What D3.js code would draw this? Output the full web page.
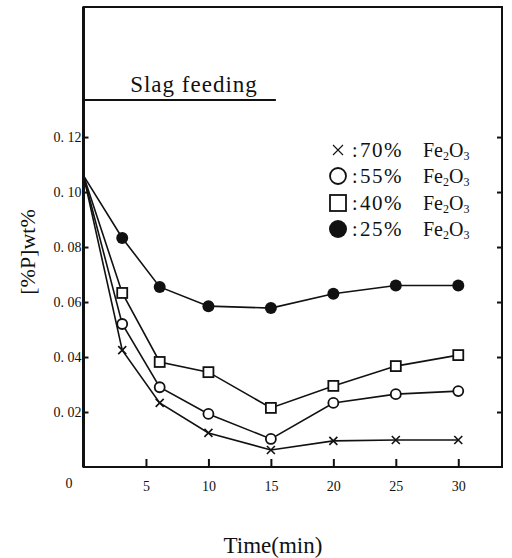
<!DOCTYPE html>
<html lang="en">
<head>
  <title>[%P] vs time</title>
  <meta charset="utf-8">
  <script src="https://d3js.org/d3.v7.min.js" charset="utf-8"></script>
  <style>
    body { margin: 0; background: #fff; }
    text { font-family: "Liberation Serif", "DejaVu Serif", serif; fill: #111; }
  </style>
</head>
<body>
  <script>
  // values
  var times = [0, 3.1, 6.1, 10, 15, 20, 25, 30];
  var fe70 = [0.106, 0.0425, 0.0233, 0.0124, 0.0062, 0.0095, 0.0098, 0.0098];
  var fe55 = [0.106, 0.052, 0.029, 0.0193, 0.0102, 0.0233, 0.0265, 0.0276];
  var fe40 = [0.106, 0.0633, 0.0382, 0.0345, 0.0215, 0.0295, 0.0367, 0.0407];
  var fe25 = [0.106, 0.0833, 0.0655, 0.0585, 0.0578, 0.063, 0.066, 0.066];
  var seriesNames = ["70%", "55%", "40%", "25%"];
  var seriesMarks = ["cross", "circle", "square", "dot"];
  var xTicks = [5, 10, 15, 20, 25, 30];
  var yTicks = [0.02, 0.04, 0.06, 0.08, 0.10, 0.12];
  var slagFeed = [0, 15.4];   // min
  var slagLevel = 0.1335;

  var w = 512, h = 558;
  var x = d3.scaleLinear().domain([0, 33.5]).range([83.5, 502]);
  var y = d3.scaleLinear().domain([0, 0.1673]).range([467, 7]);

  var svg = d3.select("body").append("svg")
    .attr("width", w)
    .attr("height", h)
    .attr("font-family", "Liberation Serif");

  // axes (ticks pointing inward)
  var fmt = function(d) { return d.toFixed(2).replace(".", ". "); };
  var gl = svg.append("g")
    .attr("transform", "translate(" + x(0) + ",0)")
    .call(d3.axisLeft(y).tickValues(yTicks).tickSize(-5).tickPadding(2).tickFormat(fmt));
  var gr = svg.append("g")
    .attr("transform", "translate(" + x(33.5) + ",0)")
    .call(d3.axisRight(y).tickValues(yTicks).tickSize(-5).tickFormat(""));
  var gb = svg.append("g")
    .attr("transform", "translate(0," + y(0) + ")")
    .call(d3.axisBottom(x).tickValues(xTicks).tickSize(-8).tickPadding(14).tickFormat(d3.format("d")));
  [gl, gr, gb].forEach(function(g) {
    g.attr("font-family", "Liberation Serif");
    g.select(".domain").remove();
    g.selectAll("line").attr("stroke", "#111").attr("stroke-width", 2);
    g.selectAll("text").attr("font-size", 14).attr("fill", "#222");
  });

  svg.append("text")
    .attr("x", 69).attr("y", 488)
    .attr("text-anchor", "middle")
    .attr("font-size", 14)
    .text("0");

  // frame
  svg.append("rect")
    .attr("x", x(0)).attr("y", y(0.1673))
    .attr("width", x(33.5) - x(0)).attr("height", y(0) - y(0.1673))
    .attr("fill", "none").attr("stroke", "#111").attr("stroke-width", 2);
  svg.append("line")
    .attr("x1", x(0)).attr("x2", x(0)).attr("y1", y(0.1673)).attr("y2", y(0))
    .attr("stroke", "#111").attr("stroke-width", 3);

  // slag feeding bar
  svg.append("line")
    .attr("x1", x(slagFeed[0])).attr("x2", x(slagFeed[1]))
    .attr("y1", y(slagLevel)).attr("y2", y(slagLevel))
    .attr("stroke", "#111").attr("stroke-width", 2);
  svg.append("text")
    .attr("x", 194).attr("y", y(slagLevel) - 8)
    .attr("text-anchor", "middle")
    .attr("font-size", 23)
    .attr("letter-spacing", 1)
    .text("Slag feeding");

  // axis titles
  svg.append("text")
    .attr("transform", "translate(35,252) rotate(-90)")
    .attr("text-anchor", "middle")
    .attr("font-size", 22)
    .text("[%P]wt%");
  svg.append("text")
    .attr("x", 273).attr("y", 553)
    .attr("text-anchor", "middle")
    .attr("font-size", 23)
    .text("Time(min)");

  var allSeries = [fe70, fe55, fe40, fe25];

  function drawMark(g, kind, cx, cy, s) {
    if (kind == "cross") {
      g.append("path")
        .attr("d", "M" + (cx - s) + "," + (cy - s) + "L" + (cx + s) + "," + (cy + s) +
                   "M" + (cx - s) + "," + (cy + s) + "L" + (cx + s) + "," + (cy - s))
        .attr("stroke", "#111").attr("stroke-width", 1.6);
    } else if (kind == "circle") {
      g.append("circle").attr("cx", cx).attr("cy", cy).attr("r", s + 1)
        .attr("fill", "#fff").attr("stroke", "#111").attr("stroke-width", 1.8);
    } else if (kind == "square") {
      g.append("rect").attr("x", cx - s - 1).attr("y", cy - s - 1)
        .attr("width", 2 * s + 2).attr("height", 2 * s + 2)
        .attr("fill", "#fff").attr("stroke", "#111").attr("stroke-width", 1.8);
    } else {
      g.append("circle").attr("cx", cx).attr("cy", cy).attr("r", s + 2)
        .attr("fill", "#111");
    }
  }

  var line = d3.line()
    .x(function(d, i) { return x(times[i]); })
    .y(function(d) { return y(d); });

  allSeries.forEach(function(vals, k) {
    svg.append("path")
      .datum(vals)
      .attr("d", line)
      .attr("fill", "none")
      .attr("stroke", "#111")
      .attr("stroke-width", 1.6);
  });
  allSeries.forEach(function(vals, k) {
    var g = svg.append("g");
    vals.forEach(function(v, i) {
      if (i == 0) return;   // common starting point has no marker
      drawMark(g, seriesMarks[k], x(times[i]), y(v), 4);
    });
  });

  // legend
  var legY = [150, 176, 203, 229];
  seriesNames.forEach(function(name, k) {
    var g = svg.append("g");
    if (seriesMarks[k] == "cross") {
      drawMark(g, "cross", 338, legY[k], 5);
      g.select("path").attr("stroke-width", 1.1);
    } else {
      drawMark(g, seriesMarks[k], 338, legY[k], 7);
    }
    var t = g.append("text")
      .attr("y", legY[k] + 7)
      .attr("font-size", 20);
    t.append("tspan").attr("x", 352).text(":");
    t.append("tspan").attr("x", 360).attr("letter-spacing", 1.5).attr("font-size", 21).text(name);
    t.append("tspan").attr("x", 423).text("Fe");
    t.append("tspan").attr("font-size", 12).attr("dy", 3).text("2");
    t.append("tspan").attr("dy", -3).text("O");
    t.append("tspan").attr("font-size", 12).attr("dy", 3).text("3");
  });
  </script>
</body>
</html>
